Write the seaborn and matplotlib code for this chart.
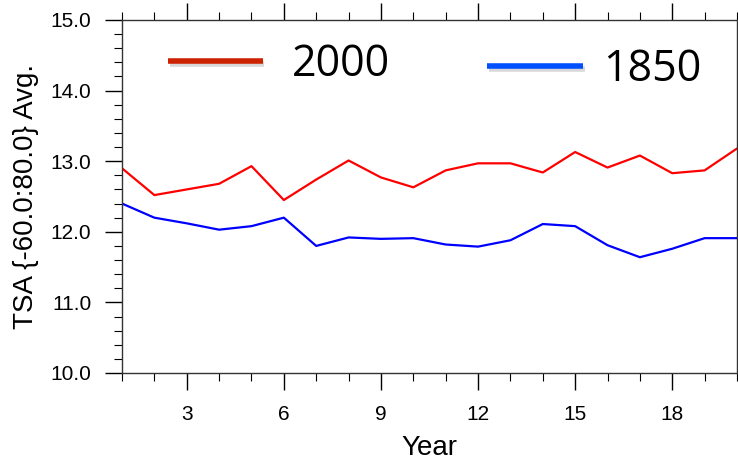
import pandas as pd
import numpy as np
import matplotlib
matplotlib.use("Agg")
import matplotlib.pyplot as plt
import matplotlib.patheffects as pe
from matplotlib.ticker import MultipleLocator
import seaborn as sns

# data
years = list(range(1, 21))
tsa_2000 = [12.90, 12.52, 12.60, 12.68, 12.93, 12.45, 12.74, 13.01, 12.77, 12.63,
            12.87, 12.97, 12.97, 12.84, 13.13, 12.91, 13.08, 12.83, 12.87, 13.18]
tsa_1850 = [12.40, 12.20, 12.12, 12.03, 12.08, 12.20, 11.80, 11.92, 11.90, 11.91,
            11.82, 11.79, 11.88, 12.11, 12.08, 11.81, 11.64, 11.76, 11.91, 11.91]
series_names = ["2000", "1850"]
line_colors = ["#ff0000", "#0000ff"]
legend_colors = ["#cc2200", "#0050ff"]

df = pd.concat([
    pd.DataFrame({"Year": years, "TSA": tsa_2000, "run": series_names[0]}),
    pd.DataFrame({"Year": years, "TSA": tsa_1850, "run": series_names[1]}),
])

sns.set_style("ticks")
plt.rcParams["font.family"] = ["Liberation Sans", "DejaVu Sans"]
plt.rcParams["text.color"] = "black"
plt.rcParams["axes.labelcolor"] = "black"
plt.rcParams["xtick.labelcolor"] = "black"
plt.rcParams["ytick.labelcolor"] = "black"

fig = plt.figure(figsize=(7.38, 4.62), dpi=100)
ax = fig.add_axes([122 / 738, 1 - 373 / 462, 615 / 738, 353 / 462])

sns.lineplot(data=df, x="Year", y="TSA", hue="run", palette=line_colors,
             linewidth=1.6, legend=False, ax=ax)

ax.set_xlim(1, 20)
ax.set_ylim(10, 15)
ax.xaxis.set_minor_locator(MultipleLocator(1))
ax.yaxis.set_minor_locator(MultipleLocator(0.2))
ax.set_xticks([3, 6, 9, 12, 15, 18])
ax.set_yticks([10, 11, 12, 13, 14, 15])
ax.set_yticklabels([f"{v:.1f}" for v in [10, 11, 12, 13, 14, 15]])

ax.tick_params(which="both", direction="out", top=True, right=True, color="black")
ax.tick_params(which="major", length=12, width=1.0, labelsize=15, pad=10)
ax.tick_params(which="minor", length=6, width=0.8)
ax.tick_params(axis="x", which="major", pad=11)
for s in ax.spines.values():
    s.set_color("#333333")
    s.set_linewidth(1.0)

ax.set_xlabel("Year", fontsize=20, labelpad=8)
ax.set_ylabel("TSA {-60.0:80.0} Avg.", fontsize=20, labelpad=8)

# hand-drawn style legend inside the plot
shadow = [pe.SimpleLineShadow(offset=(1, -2.5), shadow_color="gray", alpha=0.3), pe.Normal()]
leg_font = ["Open Sans", "DejaVu Sans"]
ax.plot([0.075, 0.229], [0.884, 0.884], transform=ax.transAxes, color=legend_colors[0],
        lw=4, solid_capstyle="butt", path_effects=shadow)
ax.text(0.276, 0.872, series_names[0], transform=ax.transAxes, fontsize=31,
        family=leg_font, va="center", ha="left")
ax.plot([0.594, 0.750], [0.870, 0.870], transform=ax.transAxes, color=legend_colors[1],
        lw=4, solid_capstyle="butt", path_effects=shadow)
ax.text(0.783, 0.860, series_names[1], transform=ax.transAxes, fontsize=31,
        family=leg_font, va="center", ha="left")

fig.savefig("out.png", dpi=100)
